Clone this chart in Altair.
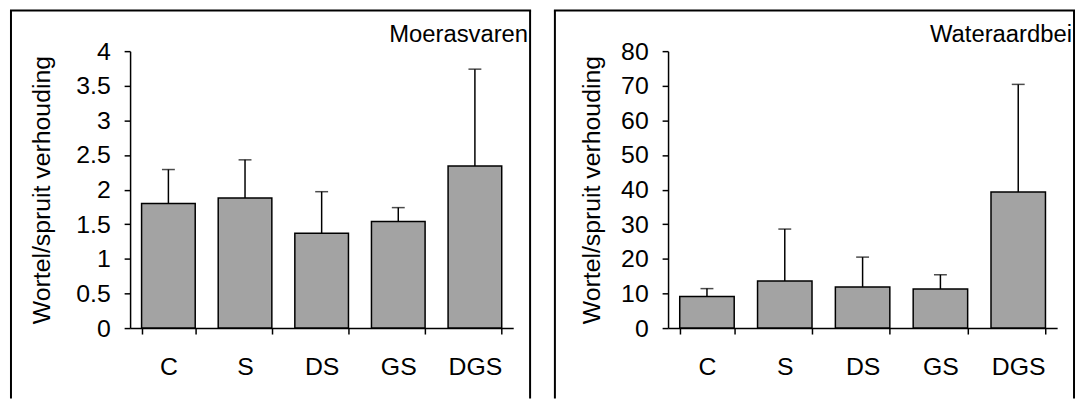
import altair as alt
import pandas as pd

categories = ["C", "S", "DS", "GS", "DGS"]

moeras_mean = [1.80, 1.88, 1.37, 1.54, 2.34]
moeras_upper = [2.29, 2.43, 1.97, 1.74, 3.74]
moeras_ticks = [0, 0.5, 1, 1.5, 2, 2.5, 3, 3.5, 4]

water_mean = [9.1, 13.6, 11.9, 11.3, 39.3]
water_upper = [11.4, 28.6, 20.5, 15.4, 70.4]
water_ticks = [0, 10, 20, 30, 40, 50, 60, 70, 80]

FONT = "Liberation Sans"
FS = 25
H = 279


def panel(name, means, uppers, ymax, yticks, width, left_edge, title_x):
    df = pd.DataFrame({"cat": categories, "mean": means, "upper": uppers})
    one = pd.DataFrame({"k": [0]})

    xenc = alt.X(
        "cat:N",
        sort=categories,
        scale=alt.Scale(paddingInner=0.3, paddingOuter=0.15),
        axis=alt.Axis(
            title=None, labelAngle=0, tickBand="extent", tickSize=6,
            tickWidth=1.5, tickColor="black", domainColor="black",
            domainWidth=1.5, labelFont=FONT, labelFontSize=FS,
            labelColor="black", labelPadding=21, grid=False,
        ),
    )
    yaxis = alt.Axis(
        values=yticks, title="Wortel/spruit verhouding",
        labelExpr="'' + datum.value", tickSize=6, tickWidth=1.5,
        tickColor="black", domainColor="black", domainWidth=1.5,
        labelFont=FONT, labelFontSize=FS, labelColor="black",
        labelPadding=14, titleFont=FONT, titleFontSize=FS,
        titleFontWeight="normal", titleColor="black", titleX=title_x,
        titleBaseline="bottom", grid=False,
    )
    yscale = alt.Scale(domain=[0, ymax], nice=False, zero=True)

    bars = alt.Chart(df).mark_bar(
        fill="#a3a3a3", stroke="black", strokeWidth=1.5
    ).encode(x=xenc, y=alt.Y("mean:Q", scale=yscale, axis=yaxis))

    err = alt.Chart(df).mark_rule(color="black", strokeWidth=1.5).encode(
        x=alt.X("cat:N", sort=categories),
        y=alt.Y("mean:Q", scale=yscale, axis=yaxis),
        y2="upper:Q",
    )
    caps = alt.Chart(df).mark_tick(
        color="black", size=13, thickness=1.5, orient="horizontal"
    ).encode(
        x=alt.X("cat:N", sort=categories),
        y=alt.Y("upper:Q", scale=yscale, axis=yaxis),
    )

    top = -41
    bottom = 350
    right_edge = width + 17
    frame_top = alt.Chart(one).mark_rule(color="black", strokeWidth=2).encode(
        x=alt.value(left_edge - 1), x2=alt.value(right_edge + 1),
        y=alt.value(top), y2=alt.value(top))
    frame_left = alt.Chart(one).mark_rule(color="black", strokeWidth=2).encode(
        x=alt.value(left_edge), x2=alt.value(left_edge),
        y=alt.value(top), y2=alt.value(bottom))
    frame_right = alt.Chart(one).mark_rule(color="black", strokeWidth=2).encode(
        x=alt.value(right_edge), x2=alt.value(right_edge),
        y=alt.value(top), y2=alt.value(bottom))

    label = alt.Chart(one).mark_text(
        font=FONT, fontSize=24, color="black", align="right",
        baseline="alphabetic",
    ).encode(x=alt.value(width + 15), y=alt.value(-9), text=alt.value(name))

    return alt.layer(
        bars, err, caps, frame_top, frame_left, frame_right, label
    ).properties(width=width, height=H)


left = panel("Moerasvaren", moeras_mean, moeras_upper, 4, moeras_ticks,
             386, -120, -76)
right = panel("Wateraardbei", water_mean, water_upper, 80, water_ticks,
              392, -114, -64)

chart = alt.hconcat(left, right, spacing=21).properties(
    padding={"left": 1, "top": 0, "right": 0, "bottom": 0}
).configure_view(stroke=None)

chart.save("out.html", embed_options={"renderer": "svg", "actions": False})
